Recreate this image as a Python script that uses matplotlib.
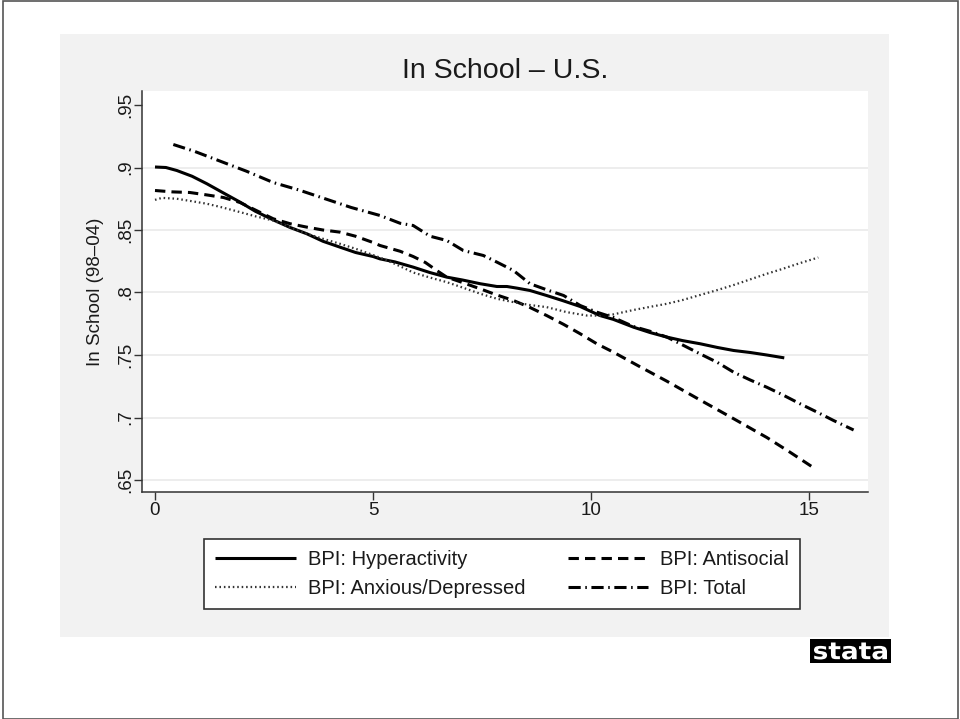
import matplotlib
matplotlib.use("Agg")
import matplotlib.pyplot as plt
from matplotlib.patches import Rectangle, PathPatch
from matplotlib.textpath import TextPath
from matplotlib.font_manager import FontProperties
from matplotlib.transforms import Affine2D

plt.rcParams['font.family'] = ['Liberation Sans', 'DejaVu Sans']

# Smoothed share in school by BPI score
hyper_x = [0.0, 0.25, 0.5, 0.85, 1.19, 1.55, 1.95, 2.3, 2.71, 3.1, 3.48, 3.85, 4.24, 4.6,
           5.0, 5.16, 5.5, 5.92, 6.3, 6.69, 7.05, 7.46, 7.84, 8.07, 8.3, 8.6, 8.98, 9.35,
           9.75, 10.2, 10.51, 10.97, 11.35, 11.74, 12.1, 12.5, 12.9, 13.27, 13.65, 14.03, 14.43]
hyper_y = [0.9004, 0.900, 0.8976, 0.893, 0.887, 0.880, 0.8723, 0.865, 0.8581, 0.852, 0.847,
           0.841, 0.8363, 0.832, 0.8288, 0.8269, 0.8245, 0.8203, 0.816, 0.8123, 0.810, 0.807,
           0.8048, 0.8048, 0.8035, 0.8016, 0.7976, 0.7935, 0.7888, 0.7816, 0.7785, 0.7723,
           0.768, 0.7643, 0.7615, 0.759, 0.756, 0.7536, 0.752, 0.750, 0.7477]

anti_x = [0.0, 0.4, 0.8, 1.2, 1.57, 1.95, 2.3, 2.71, 3.1, 3.48, 3.85, 4.24, 4.6, 5.0, 5.16,
          5.62, 5.92, 6.2, 6.46, 6.69, 7.05, 7.46, 7.84, 8.22, 8.6, 8.98, 9.37, 9.75, 10.13,
          10.51, 11.1, 11.74, 12.5, 13.27, 14.03, 14.55, 15.05]
anti_y = [0.8816, 0.8805, 0.880, 0.878, 0.876, 0.872, 0.866, 0.859, 0.855, 0.8523, 0.850,
          0.8483, 0.845, 0.840, 0.8376, 0.833, 0.8288, 0.824, 0.8176, 0.8123, 0.808, 0.8029,
          0.798, 0.7936, 0.788, 0.7816, 0.7745, 0.767, 0.759, 0.7523, 0.741, 0.729, 0.714,
          0.699, 0.684, 0.6725, 0.661]

anx_x = [0.0, 0.16, 0.5, 0.85, 1.19, 1.55, 1.95, 2.3, 2.71, 3.1, 3.48, 3.85, 4.24, 4.6, 5.0,
         5.3, 5.62, 5.92, 6.3, 6.69, 7.05, 7.46, 7.84, 8.22, 8.6, 8.98, 9.44, 9.9, 10.2, 10.51,
         10.97, 11.35, 11.74, 12.1, 12.5, 12.9, 13.27, 13.65, 14.03, 14.4, 14.79, 15.21]
anx_y = [0.8741, 0.8757, 0.875, 0.873, 0.871, 0.868, 0.8643, 0.861, 0.8576, 0.852, 0.847,
         0.843, 0.839, 0.835, 0.830, 0.826, 0.821, 0.816, 0.812, 0.8083, 0.804, 0.799, 0.795,
         0.7923, 0.790, 0.7883, 0.7843, 0.7816, 0.7815, 0.7825, 0.786, 0.7885, 0.791, 0.794,
         0.798, 0.802, 0.806, 0.8105, 0.815, 0.819, 0.8235, 0.828]

total_x = [0.42, 0.9, 1.5, 2.1, 2.71, 3.3, 3.9, 4.5, 5.16, 5.62, 5.92, 6.31, 6.69, 7.07, 7.53,
           7.84, 8.22, 8.6, 8.98, 9.37, 9.75, 10.13, 10.51, 10.97, 11.35, 11.74, 12.1, 12.5,
           12.9, 13.27, 13.65, 14.03, 14.4, 14.79, 15.2, 15.56, 16.02]
total_y = [0.9184, 0.913, 0.905, 0.897, 0.888, 0.882, 0.875, 0.868, 0.8616, 0.8554, 0.8536,
           0.845, 0.8416, 0.8336, 0.8296, 0.8243, 0.8176, 0.807, 0.8022, 0.7976, 0.7896,
           0.7843, 0.780, 0.7728, 0.769, 0.7643, 0.758, 0.7509, 0.744, 0.7362, 0.730, 0.7242,
           0.718, 0.711, 0.704, 0.6976, 0.690]

series_labels = ["BPI: Hyperactivity", "BPI: Antisocial", "BPI: Anxious/Depressed", "BPI: Total"]
xticks = [0, 5, 10, 15]
yticks = [0.65, 0.70, 0.75, 0.80, 0.85, 0.90, 0.95]
ytick_labels = [".65", ".7", ".75", ".8", ".85", ".9", ".95"]
grid_levels = [0.65, 0.70, 0.75, 0.80, 0.85, 0.90]

W, H = 960, 719
TXT = '#1a1a1a'

fig = plt.figure(figsize=(W / 100, H / 100), dpi=100)
fig.patch.set_facecolor('white')

# graph region (light gray) and outer frame
fig.patches.append(Rectangle((60 / W, 1 - 637 / H), (889 - 60) / W, (637 - 34) / H,
                             transform=fig.transFigure, facecolor='#f2f2f2',
                             edgecolor='none', zorder=-5))
fig.patches.append(Rectangle((2.5 / W, 0.5 / H), (958 - 2.5) / W, (718 - 0.5) / H,
                             transform=fig.transFigure, fill=False,
                             edgecolor='#555555', linewidth=1.2, zorder=10))

ax = fig.add_axes([142 / W, 1 - 492 / H, (868 - 142) / W, (492 - 91) / H])
ax.set_facecolor('white')
ax.set_xlim(-0.298, 16.35)
ax.set_ylim(0.6404, 0.9612)

for g in grid_levels:
    ax.axhline(g, color='#e8e8e8', linewidth=1.1, zorder=0)

lw = 2.2
h1, = ax.plot(hyper_x, hyper_y, color='black', linewidth=lw, solid_capstyle='butt',
              label=series_labels[0], zorder=3)
h2, = ax.plot(anti_x, anti_y, color='black', linewidth=lw, dashes=(3.4, 2.0),
              label=series_labels[1], zorder=3)
h3, = ax.plot(anx_x, anx_y, color='#333333', linewidth=1.6, dashes=(0.7, 1.3),
              label=series_labels[2], zorder=3)
h4, = ax.plot(total_x, total_y, color='black', linewidth=lw, dashes=(4.0, 1.5, 0.5, 1.5),
              label=series_labels[3], zorder=3)

for side in ('top', 'right'):
    ax.spines[side].set_visible(False)
for side in ('left', 'bottom'):
    ax.spines[side].set_color('#333333')
    ax.spines[side].set_linewidth(1.1)

ax.set_xticks(xticks)
ax.set_xticklabels([str(t) for t in xticks])
ax.set_yticks(yticks)
ax.set_yticklabels(ytick_labels)
ax.tick_params(axis='both', direction='out', length=5.5, width=1.0, color='#333333',
               labelsize=13.5, labelcolor=TXT, pad=2)
ax.tick_params(axis='y', labelrotation=90, pad=0)
for t in ax.get_yticklabels():
    t.set_va('center')

ax.set_ylabel("In School (98\u201304)", fontsize=13.5, color=TXT, va='center')
ax.yaxis.set_label_coords(-0.064, 0.5)

fig.text(505 / W, 1 - 78 / H, "In School \u2013 U.S.", ha='center', va='baseline',
         fontsize=20.5, color=TXT)

leg = fig.legend(handles=[h1, h3, h2, h4], ncol=2, loc='upper left',
                 bbox_to_anchor=(204 / W, 1 - 539 / H), bbox_transform=fig.transFigure,
                 borderaxespad=0, fontsize=14.5, handlelength=4.0, handletextpad=0.6,
                 columnspacing=2.1, borderpad=0.55, labelspacing=0.5, frameon=True,
                 fancybox=False, framealpha=1, edgecolor='#333333', facecolor='white')
leg.get_frame().set_linewidth(1.2)
for t in leg.get_texts():
    t.set_color(TXT)

# logo badge in the lower right corner
bx0, by0, bw, bh = 810, 639, 81, 24
fig.patches.append(Rectangle((bx0 / W, 1 - (by0 + bh) / H), bw / W, bh / H,
                             transform=fig.transFigure, facecolor='black',
                             edgecolor='none', zorder=5))
tp = TextPath((0, 0), "stata", size=10, prop=FontProperties(family='DejaVu Sans', weight='bold'))
ext = tp.get_extents()
tw, th = bw - 8, bh - 7
sx, sy = tw / ext.width, th / ext.height
tr = (Affine2D().translate(-ext.x0, -ext.y0).scale(sx, sy)
      .translate(bx0 + 4, H - (by0 + bh) + 3.5).scale(1 / W, 1 / H) + fig.transFigure)
fig.patches.append(PathPatch(tp, transform=tr, facecolor='white', edgecolor='none', zorder=6))

fig.savefig("out.png", dpi=100, facecolor=fig.get_facecolor())
